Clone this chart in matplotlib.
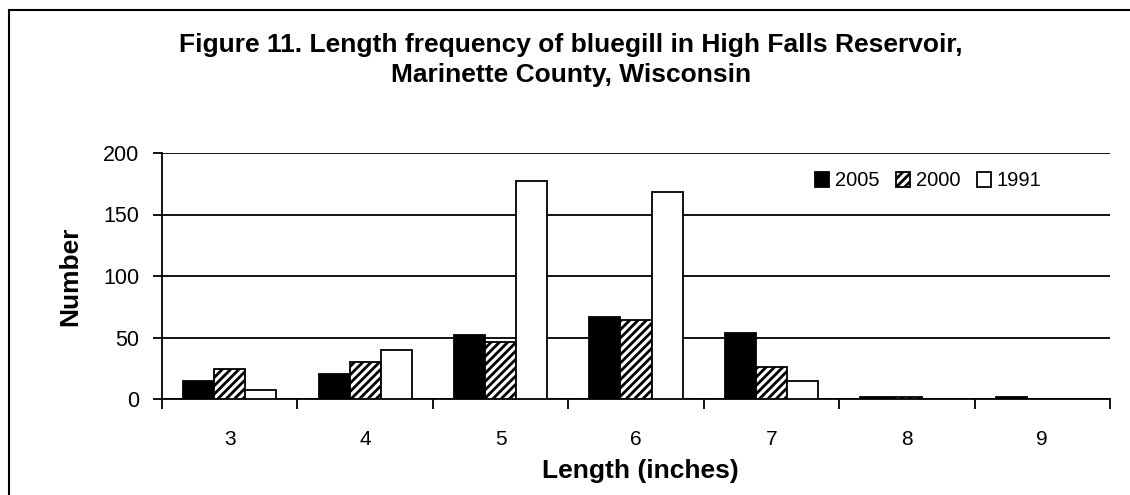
import matplotlib
matplotlib.use("Agg")
import matplotlib.pyplot as plt
from matplotlib.patches import Rectangle
import numpy as np

plt.rcParams['font.family'] = ['Liberation Sans', 'DejaVu Sans']
plt.rcParams['hatch.linewidth'] = 2.0

categories = ['3', '4', '5', '6', '7', '8', '9']
series_names = ['2005', '2000', '1991']
values_2005 = [15, 20, 52, 67, 54, 2, 2]
values_2000 = [24, 30, 46, 64, 26, 2, 0]
values_1991 = [7, 40, 177, 168, 15, 0, 0]
y_ticks = [0, 50, 100, 150, 200]

W, H = 1130, 495
fig = plt.figure(figsize=(W/100, H/100), dpi=100)
ax = fig.add_axes([162/W, 1-399/H, (1110-162)/W, (399-153)/H])

x = np.arange(len(categories))
w = 0.229
styles = [('black', None), ('white', '////'), ('white', None)]
for i, (vals, name, (fc, hatch)) in enumerate(zip([values_2005, values_2000, values_1991], series_names, styles)):
    ax.bar(x + (i-1)*w, vals, width=w, facecolor=fc, edgecolor='black',
           hatch=hatch, linewidth=1.3, label=name, zorder=3)

ax.set_xlim(-0.5, len(categories)-0.5)
ax.set_ylim(0, 200)
ax.set_yticks(y_ticks)
ax.set_yticklabels([str(v) for v in y_ticks], fontsize=15.5)
ax.set_xticks(x)
ax.set_xticklabels(categories, fontsize=15)
ax.set_xticks(np.arange(-0.5, len(categories), 1), minor=True)
ax.tick_params(axis='x', which='major', length=0, pad=22)
ax.tick_params(axis='x', which='minor', length=7, width=1.3, direction='out')
ax.tick_params(axis='y', length=6.5, width=1.3, direction='out', pad=10)
ax.yaxis.grid(True, color='black', linewidth=1.3, zorder=0)
ax.set_axisbelow(True)
for s in ['top', 'right']:
    ax.spines[s].set_visible(False)
for s in ['left', 'bottom']:
    ax.spines[s].set_linewidth(1.3)

fig.text(70/W, 1-276/H, 'Number', rotation=90, ha='center', va='center',
         fontsize=19, fontweight='bold')
fig.text(640/W, 1-478/H, 'Length (inches)', ha='center', va='baseline',
         fontsize=19, fontweight='bold')

leg = ax.legend(loc='center left', bbox_to_anchor=(815/W, 1-181/H),
                bbox_transform=fig.transFigure, ncol=3, frameon=False,
                fontsize=14.5, handlelength=0.7, handleheight=0.7, handletextpad=0.3,
                columnspacing=0.8, borderpad=0, borderaxespad=0)

fig.text(571/W, 1-52/H, 'Figure 11. Length frequency of bluegill in High Falls Reservoir,',
         ha='center', va='baseline', fontsize=19, fontweight='bold')
fig.text(571/W, 1-82/H, 'Marinette County, Wisconsin',
         ha='center', va='baseline', fontsize=19, fontweight='bold')

fig.patches.append(Rectangle((9/W, -0.1), 1.2, 1.1 - 10/H, transform=fig.transFigure,
                             fill=False, edgecolor='black', linewidth=1.5))

fig.savefig('out.png', dpi=100)
